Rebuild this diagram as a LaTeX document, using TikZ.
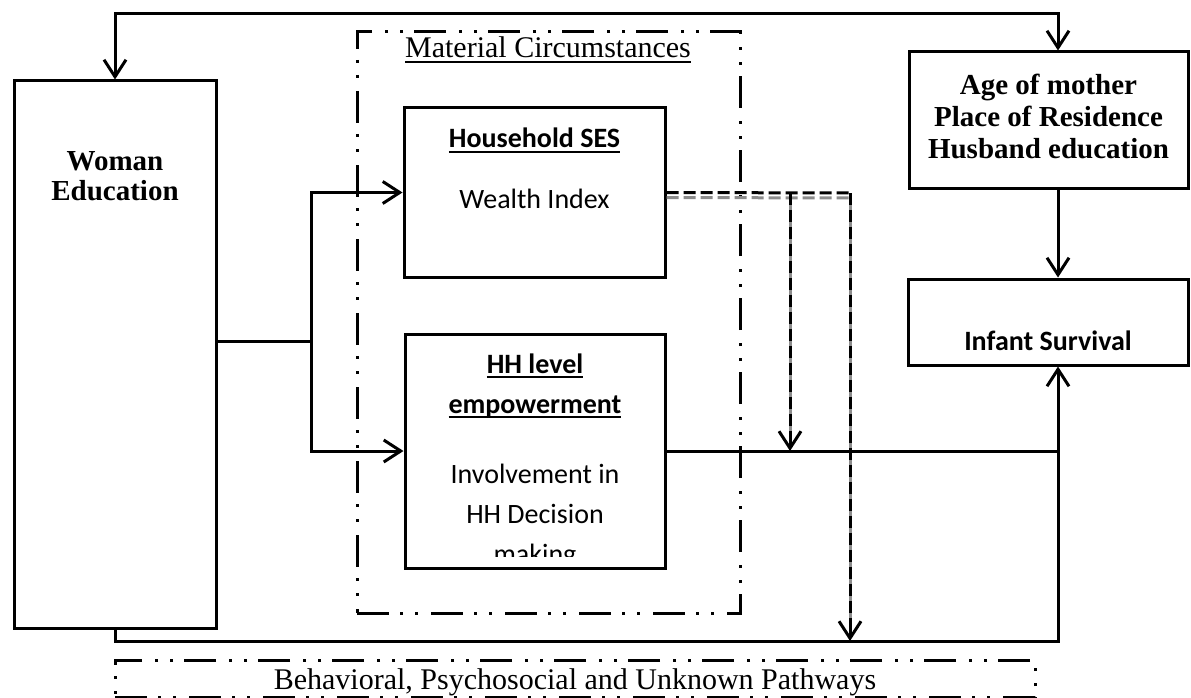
\documentclass[tikz,border=0pt]{standalone}
\usepackage{fontspec}
\setmainfont{Liberation Serif}
\newfontfamily\calfont{Carlito}
\newcommand\myul[1]{\setbox0\hbox{#1}\leavevmode\rlap{\rule[-5pt]{\wd0}{2pt}}\box0}
\usetikzlibrary{arrows.meta}
\begin{document}
\begin{tikzpicture}[x=1pt,y=-1pt,
  box/.style={draw,line width=3pt,rectangle,inner sep=0pt},
  ln/.style={line width=3pt},
  tip/.tip={Straight Barb[length=17pt,width=22pt,line width=3pt]},
  arr/.style={line width=3pt,-tip},
  ddot/.style={draw,line width=3pt,dash pattern=on 32pt off 11pt on 3pt off 12pt on 3pt off 13pt},
  dsh/.style={line width=3pt,dash pattern=on 12pt off 5pt},
  shd/.style={line width=3pt,draw=black!45},
  serb/.style={font=\fontsize{29}{31}\selectfont\bfseries,inner sep=0pt,anchor=base},
  ser/.style={font=\fontsize{30}{31}\selectfont,inner sep=0pt,anchor=base},
  calb/.style={font=\calfont\fontsize{28}{34}\selectfont\bfseries,inner sep=0pt,anchor=base},
  cal/.style={font=\calfont\fontsize{28}{34}\selectfont,inner sep=0pt,anchor=base},
]
\useasboundingbox (0,0) rectangle (1191,698);

% boxes
\node[box, minimum width=202pt, minimum height=547pt] (woman) at (115,354.5) {};
\node[ddot, rectangle, inner sep=0pt, minimum width=383pt, minimum height=581pt] (mat) at (548.5,322.5) {};
\node[box, fill=white, minimum width=261pt, minimum height=169pt] (ses) at (534.5,192.5) {};
\node[box, fill=white, minimum width=260pt, minimum height=234pt] (hh) at (535,451) {};
\node[box, minimum width=279pt, minimum height=136pt] (ctx) at (1048.5,120) {};
\node[box, minimum width=280pt, minimum height=86pt] (inf) at (1048,322) {};
\node[ddot, rectangle, inner sep=0pt, minimum width=920pt, minimum height=37pt] (beh) at (575,678.5) {};

% texts
\node[serb] (w1) at (115,170) {Woman};
\node[serb] (w2) at (115,200) {Education};
\node[ser] (mt) at (548,58) {\myul{Material Circumstances}};
\node[calb] (s1) at (534.5,148) {\myul{Household SES}};
\node[cal] (s2) at (534.5,208) {Wealth Index};
\node[calb] (h1) at (535,373) {\myul{HH level}};
\node[calb] (h2) at (535,413) {\myul{empowerment}};
\begin{scope}
\clip (405,440) rectangle (665,556);
\node[cal] (h3) at (535,483) {Involvement in};
\node[cal] (h4) at (535,523) {HH Decision};
\node[cal] (h5) at (535,563) {making};
\end{scope}
\node[serb] (c1) at (1048.5,95) {Age of mother};
\node[serb] (c2) at (1048.5,127) {Place of Residence};
\node[serb] (c3) at (1048.5,158) {Husband education};
\node[calb] (i1) at (1048,350) {Infant Survival};
\node[ser] (b1) at (575,689) {Behavioral, Psychosocial and Unknown Pathways};

% coordinates
\coordinate (rc) at (1058,14);
\coordinate (j) at (311,341);
\coordinate (bl) at (115,641);
\coordinate (d1) at (790,193);
\coordinate (d2) at (850,193);

% connectors
\draw[line width=3pt,tip-tip] (woman.north) -- (woman.north |- rc) -- (rc) -- (ctx.north -| rc);
\draw[arr] (ctx.south -| rc) -- (inf.north -| rc);
\draw[ln] (woman.east |- j) -- (j);
\draw[arr] (j) |- (ses.west);
\draw[arr] (j) |- (hh.west);
\draw[ln] (hh.east) -- (hh.east -| rc);
\draw[arr] (woman.south) -- (bl) -- (bl -| rc) -- (inf.south -| rc);

% dashed (shadowed) connectors
\draw[shd,dsh] ([yshift=-5pt]ses.east) -- ([yshift=-5pt]d2);
\draw[shd] (d1) -- ([yshift=12pt]hh.east -| d1);
\draw[shd] (d2) -- ([yshift=12pt]bl -| d2);
\draw[dsh] (ses.east) -- (d2);
\draw[dsh] (d1) -- ([yshift=12pt]hh.east -| d1);
\draw[dsh] (d2) -- ([yshift=12pt]bl -| d2);
\draw[arr] ([yshift=14pt]hh.east -| d1) -- (hh.east -| d1);
\draw[arr] ([yshift=14pt]bl -| d2) -- (bl -| d2);
\end{tikzpicture}
\end{document}
